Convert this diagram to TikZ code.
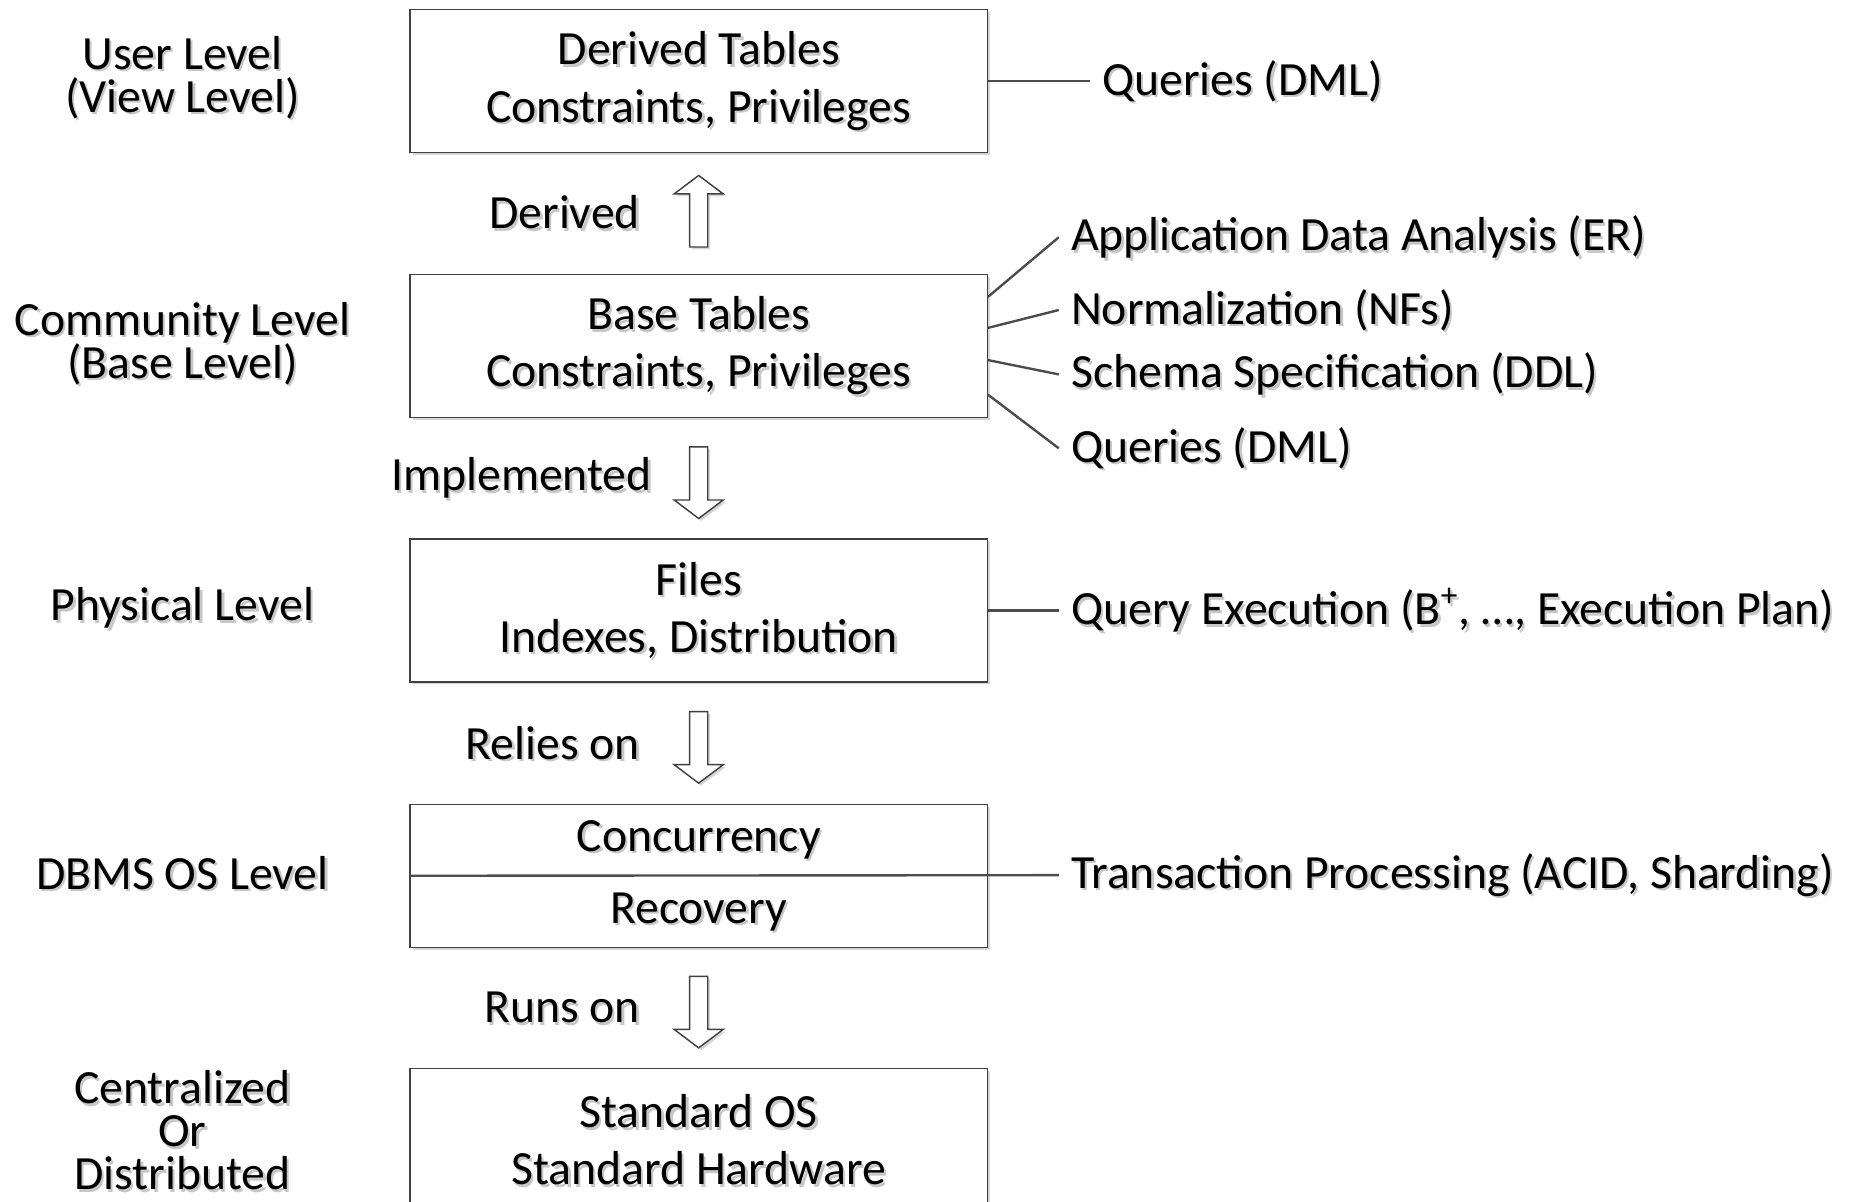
\documentclass[tikz,border=0pt]{standalone}
\usepackage{fontspec}
\setmainfont{Carlito}
\usetikzlibrary{shapes.arrows,shadows,calc}

% text with a light drop shadow
\newcommand\sh[1]{\rlap{\smash{\kern1pt\raisebox{-1pt}{\color{black!22}#1}}}#1}
\newcommand\tightlines{\lineskiplimit=-20pt\relax}

\tikzset{
  boxshadow/.style={drop shadow={shadow xshift=1pt,shadow yshift=-1pt,fill=black!16,opacity=1}},
  layer/.style={draw=black!75,line width=0.6pt,fill=white,boxshadow,
    minimum width=242pt,minimum height=60pt,inner sep=0pt,align=center,
    font=\fontsize{20}{24}\selectfont},
  levelname/.style={align=center,inner sep=0pt,
    font=\fontsize{20}{18}\selectfont\tightlines},
  celltext/.style={inner sep=2pt,font=\fontsize{20}{24}\selectfont},
  arrowtext/.style={anchor=east,inner sep=2pt,font=\fontsize{20}{24}\selectfont},
  usetext/.style={anchor=west,inner xsep=5pt,inner ysep=2pt,font=\fontsize{20}{24}\selectfont},
  blockarrow/.style={single arrow,draw=black!75,line width=0.6pt,fill=white,boxshadow,
    minimum height=30pt,inner xsep=3.5pt,inner ysep=0pt,
    single arrow head extend=6.5pt,single arrow tip angle=106},
  link/.style={draw=black!70,line width=1pt}
}

\begin{document}
\begin{tikzpicture}[x=0.5pt,y=-0.5pt]
\useasboundingbox (0,0) rectangle (1560,1008);
\clip (0,0) rectangle (1560,1008);

% levels on the left
\node[levelname] (userlvl) at (153,65) {\sh{User Level}\\\sh{(View Level)}};
\node[levelname] (commlvl) at (153,288) {\sh{Community Level}\\\sh{(Base Level)}};
\node[levelname] (physlvl) at (153,510) {\sh{Physical Level}};
\node[levelname] (oslvl) at (153,732) {\sh{DBMS OS Level}};
\node[levelname] (hwlvl) at (153,948) {\sh{Centralized}\\\sh{Or}\\\sh{Distributed}};

% the layers
\node[layer] (derived) at (586,68) {\sh{Derived Tables}\\\sh{Constraints, Privileges}};
\node[layer] (base) at (586,290) {\sh{Base Tables}\\\sh{Constraints, Privileges}};
\node[layer] (files) at (586,512) {\sh{Files}\\\sh{Indexes, Distribution}};
\node[layer] (dbms) at (586,734.5) {};
\node[celltext] (conc) at (586,704) {\sh{Concurrency}};
\node[celltext] (recov) at (586,765) {\sh{Recovery}};
\node[layer] (stdos) at (586,956) {\sh{Standard OS}\\\sh{Standard Hardware}};

% block arrows between the layers
\node[blockarrow,shape border rotate=90] (arrderived) at (586,180) {};
\node[blockarrow,shape border rotate=270] (arrimpl) at (586,402) {};
\node[blockarrow,shape border rotate=270] (arrrelies) at (586,624) {};
\node[blockarrow,shape border rotate=270] (arrruns) at (586,846) {};
\node[arrowtext] (txtderived) at (541,178) {\sh{Derived}};
\node[arrowtext] (txtimpl) at (551,401) {\sh{Implemented}};
\node[arrowtext] (txtrelies) at (541,623) {\sh{Relies on}};
\node[arrowtext] (txtruns) at (541,845) {\sh{Runs on}};

% uses on the right
\node[usetext] (dml1) at (914,68) {\sh{Queries (DML)}};
\node[usetext] (er) at (888,199) {\sh{Application Data Analysis (ER)}};
\node[usetext] (nf) at (888,260) {\sh{Normalization (NFs)}};
\node[usetext] (ddl) at (888,314) {\sh{Schema Specification (DDL)}};
\node[usetext] (dml2) at (888,376) {\sh{Queries (DML)}};
\node[usetext] (qexec) at (888,512) {\sh{Query Execution (B\textsuperscript{+}, \dots, Execution Plan)}};
\node[usetext] (trans) at (888,734) {\sh{Transaction Processing (ACID, Sharding)}};

\draw[link] (derived.east) -- (dml1.west);
\draw[link] ($(base.east)+(0,-41)$) -- (er.west);
\draw[link] ($(base.east)+(0,-15)$) -- (nf.west);
\draw[link] ($(base.east)+(0,12)$) -- (ddl.west);
\draw[link] ($(base.east)+(0,41)$) -- (dml2.west);
\draw[link] (files.east) -- (qexec.west);
\draw[link] (dbms.west) -- (trans.west);
\end{tikzpicture}
\end{document}
